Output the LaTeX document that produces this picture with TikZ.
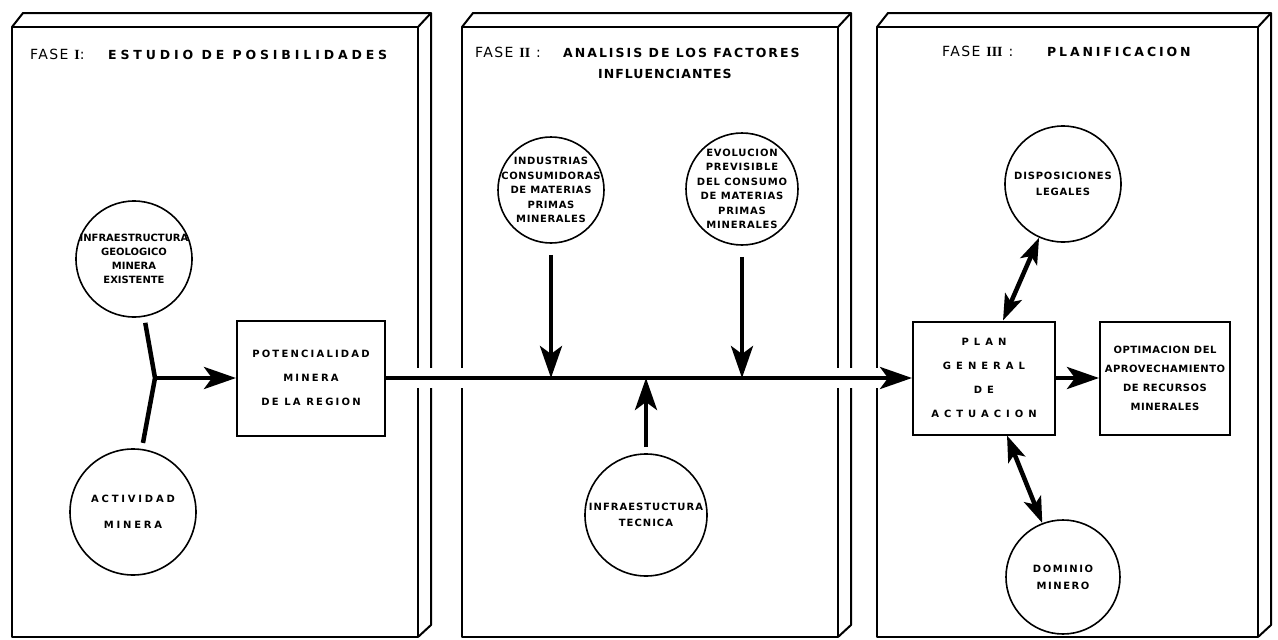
\documentclass[tikz,border=0pt]{standalone}
\usepackage{fontspec}
\setmainfont{DejaVu Sans}
\newfontfamily\romfont{Liberation Serif}
\usetikzlibrary{positioning,arrows.meta,backgrounds}

\newcommand{\spc}[1]{\addfontfeatures{LetterSpace=#1}}

\tikzset{
  panel/.style={line width=2pt, line join=round},
  circ/.style={draw, circle, line width=1.6pt, inner sep=-14pt, align=center,
    font=\bfseries\fontsize{10}{14}\selectfont},
  blk/.style={draw, rectangle, line width=2pt, inner sep=0pt, align=center,
    font=\bfseries\fontsize{10}{24}\selectfont},
  head/.style={anchor=base west, inner sep=0pt, font=\bfseries\fontsize{12.5}{20}\selectfont},
  conn/.style={line width=4.5pt},
  arr/.style={conn, -{Stealth[length=32pt,width=22pt,inset=8pt]}},
  darr/.style={conn, {Stealth[length=26pt,width=18pt,inset=6pt]}-{Stealth[length=26pt,width=18pt,inset=6pt]}},
}

\begin{document}
\begin{tikzpicture}[x=1pt, y=-1pt]
\useasboundingbox (0,0) rectangle (1278,640);

% headers
\node[head, font=\fontsize{14}{16}\selectfont\spc{10}] (f1) at (30,59) {FASE {\romfont\bfseries I}:};
\node[head, font=\bfseries\fontsize{12.5}{20}\selectfont\spc{31}] (t1) at (108,59) {ESTUDIO DE POSIBILIDADES};
\node[head, font=\fontsize{14}{16}\selectfont\spc{10}] (f2) at (475,57) {FASE {\romfont\bfseries II} :};
\node[head, font=\bfseries\fontsize{12.5}{20}\selectfont\spc{16}] (t2) at (563,57) {ANALISIS DE LOS FACTORES};
\node[head, font=\bfseries\fontsize{12.5}{20}\selectfont\spc{8}] (t2b) at (598,78) {INFLUENCIANTES};
\node[head, font=\fontsize{14}{16}\selectfont\spc{10}] (f3) at (942,56) {FASE {\romfont\bfseries III} :};
\node[head, font=\bfseries\fontsize{12.5}{20}\selectfont\spc{23}] (t3) at (1047,56) {PLANIFICACION};

% fase I
\node[circ, minimum size=116pt] (infra) at (134,259) {INFRAESTRUCTURA\\GEOLOGICO\\MINERA\\EXISTENTE};
\node[circ, minimum size=126pt, font=\bfseries\fontsize{10}{26}\selectfont\spc{28}] (activ) at (133,512) {ACTIVIDAD\\MINERA};
\node[blk, minimum width=148pt, minimum height=115pt, font=\bfseries\fontsize{10}{24}\selectfont\spc{22}] (poten) at (311,378) {POTENCIALIDAD\\MINERA\\DE LA REGION};

% fase II
\node[circ, minimum size=106pt, font=\bfseries\fontsize{10}{14.5}\selectfont\spc{6}] (ind) at (551,190) {INDUSTRIAS\\CONSUMIDORAS\\DE MATERIAS\\PRIMAS\\MINERALES};
\node[circ, minimum size=112pt, font=\bfseries\fontsize{10}{14.5}\selectfont\spc{8}] (evol) at (742,189) {EVOLUCION\\PREVISIBLE\\DEL CONSUMO\\DE MATERIAS\\PRIMAS\\MINERALES};
\node[circ, minimum size=122pt, font=\bfseries\fontsize{10}{16}\selectfont\spc{10}] (tecn) at (646,515) {INFRAESTUCTURA\\TECNICA};

% fase III
\node[blk, minimum width=142pt, minimum height=113pt, font=\bfseries\fontsize{10}{24}\selectfont\spc{50}] (plan) at (984,378) {PLAN\\GENERAL\\DE\\ACTUACION};
\node[blk, minimum width=130pt, minimum height=113pt, font=\bfseries\fontsize{10}{19}\selectfont\spc{5}] (optim) at (1165,378) {OPTIMACION DEL\\APROVECHAMIENTO\\DE RECURSOS\\MINERALES};
\node[circ, minimum size=116pt, font=\bfseries\fontsize{10}{16}\selectfont\spc{8}] (disp) at (1063,184) {DISPOSICIONES\\LEGALES};
\node[circ, minimum size=114pt, font=\bfseries\fontsize{10}{17}\selectfont\spc{15}] (domin) at (1063,577) {DOMINIO\\MINERO};

% connectors
\coordinate (j) at (155,378);
\draw[conn, shorten <=6pt, shorten >=6pt] (infra.-80) -- (j) -- (activ.82);
\draw[arr] (j) -- (poten);
\draw[arr] (poten) -- (plan);
\coordinate (p1) at (551,378);
\coordinate (p2) at (742,378);
\coordinate (p3) at (646,378);
\draw[arr, shorten <=11pt] (ind) -- (p1);
\draw[arr, shorten <=11pt] (evol) -- (p2);
\draw[arr, shorten <=6pt] (tecn) -- (p3);
\draw[arr] (plan) -- (optim);
\draw[darr] ([xshift=19pt]plan.north) -- (disp.-114);
\draw[darr] ([xshift=23pt]plan.south) -- (domin.111);

% the three phases, cut where the main line passes
\begin{scope}[on background layer]
\foreach \a/\b in {12/418, 462/838, 877/1258} {
  \draw[panel] (\a,27) rectangle (\b,637);
  \draw[panel] (\a,27) -- (\a+11,13) -- (\b+13,13) -- (\b+13,625) -- (\b,637);
  \draw[panel] (\b,27) -- (\b+13,13);
}
\draw[white, line width=20pt] (poten.east) -- (plan.west);
\end{scope}

\end{tikzpicture}
\end{document}
